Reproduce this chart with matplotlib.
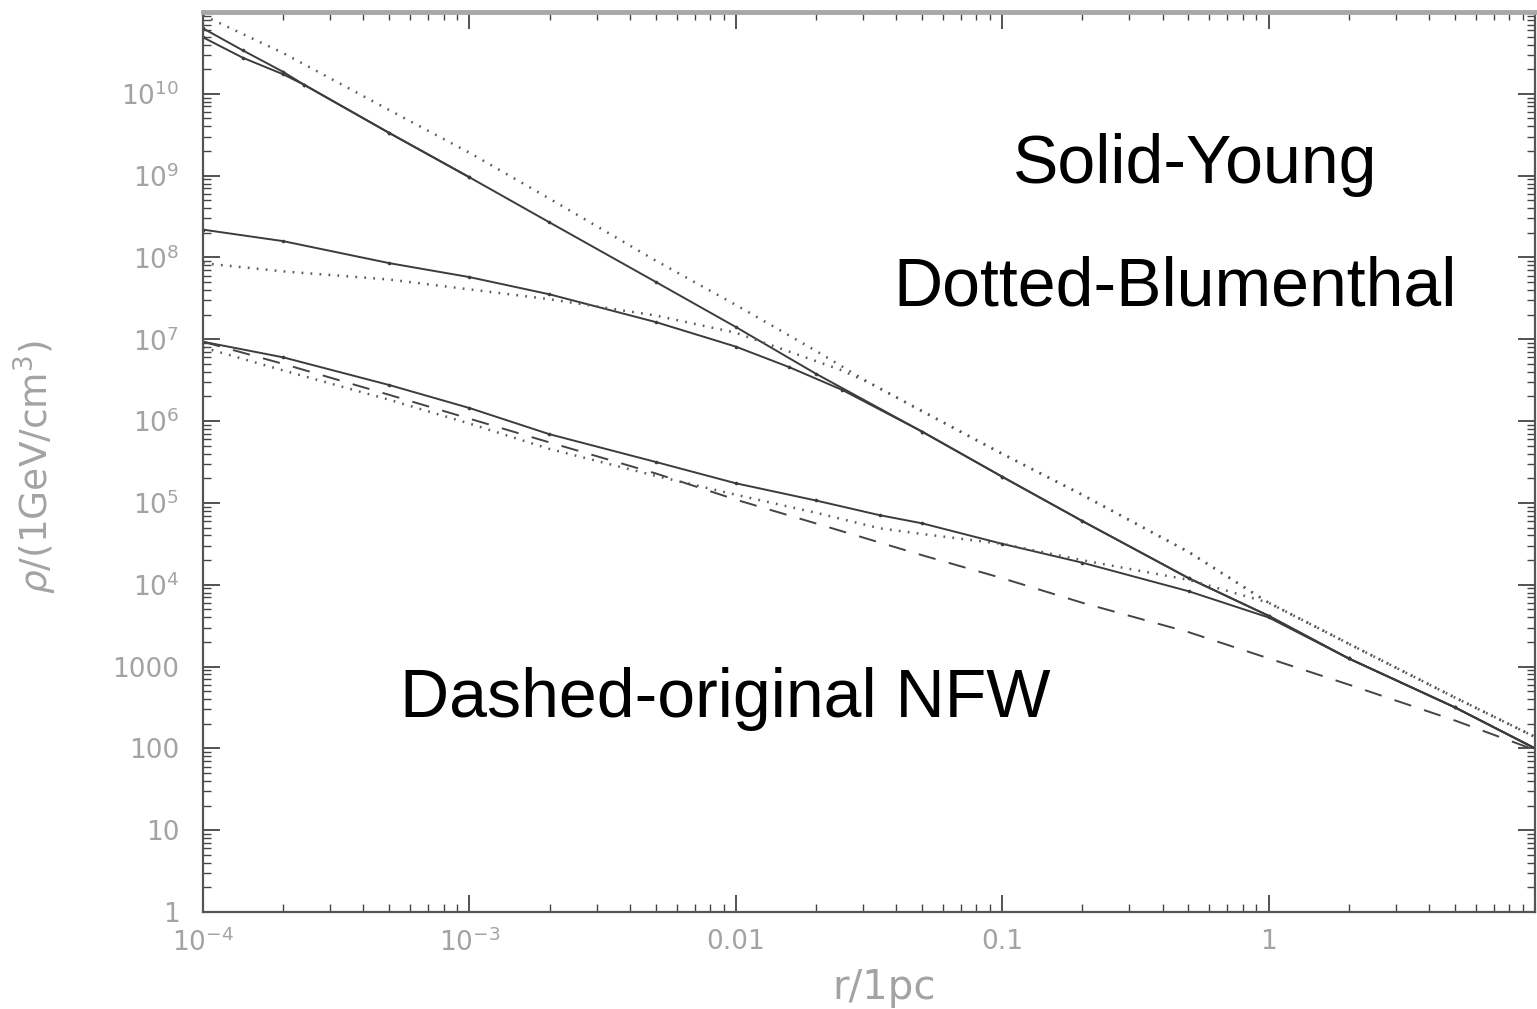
import numpy as np
import matplotlib
matplotlib.use("Agg")
import matplotlib.pyplot as plt
from matplotlib.ticker import LogLocator, FixedLocator, FixedFormatter, NullFormatter

# ---- density profiles: log10(r / 1pc) and log10(rho / (1 GeV/cm^3)) ----
# Young (solid) adiabatic-compression profiles
young_steep_a_logr = [-4.0, -3.85, -3.70, -3.62, -3.30, -3.0, -2.70, -2.30, -2.0, -1.70,
                      -1.30, -1.0, -0.70, -0.30, 0.0, 0.30, 0.70, 1.0]
young_steep_a_logrho = [10.80, 10.53, 10.27, 10.11, 9.52, 8.98, 8.43, 7.70, 7.15, 6.58,
                        5.87, 5.32, 4.78, 4.08, 3.62, 3.10, 2.50, 2.00]
young_steep_b_logr = [-4.0, -3.85, -3.70, -3.62, -3.30, -3.0]
young_steep_b_logrho = [10.69, 10.44, 10.24, 10.11, 9.52, 8.98]
young_mid_logr = [-4.0, -3.70, -3.30, -3.0, -2.70, -2.30, -2.0, -1.80, -1.60, -1.30,
                  -1.0, -0.70, -0.30, 0.0, 0.30, 0.70, 1.0]
young_mid_logrho = [8.34, 8.20, 7.93, 7.76, 7.55, 7.21, 6.91, 6.66, 6.38, 5.87,
                    5.32, 4.78, 4.08, 3.62, 3.10, 2.50, 2.00]
young_low_logr = [-4.0, -3.70, -3.30, -3.0, -2.70, -2.30, -2.0, -1.70, -1.46, -1.30,
                  -1.0, -0.70, -0.30, 0.0, 0.30, 0.70, 1.0]
young_low_logrho = [6.97, 6.78, 6.44, 6.16, 5.84, 5.50, 5.24, 5.03, 4.85, 4.75,
                    4.50, 4.27, 3.92, 3.60, 3.10, 2.50, 2.00]

# Blumenthal (dotted) profiles
blum_steep_logr = [-4.0, -3.70, -3.30, -3.0, -2.70, -2.30, -2.0, -1.70, -1.50, -1.30,
                   -1.0, -0.70, -0.30, 0.0, 0.30, 0.70, 1.0]
blum_steep_logrho = [10.96, 10.50, 9.80, 9.28, 8.72, 7.96, 7.42, 6.86, 6.47, 6.12,
                     5.60, 5.10, 4.40, 3.78, 3.28, 2.62, 2.14]
blum_mid_logr = [-4.0, -3.70, -3.30, -3.0, -2.70, -2.30, -2.0, -1.80, -1.61, -1.50,
                 -1.30, -1.0, -0.70, -0.30, 0.0, 0.30, 0.70, 1.0]
blum_mid_logrho = [7.93, 7.83, 7.73, 7.61, 7.49, 7.29, 7.08, 6.85, 6.63, 6.47,
                   6.12, 5.60, 5.10, 4.40, 3.78, 3.28, 2.62, 2.14]
blum_low_logr = [-4.0, -3.70, -3.30, -3.0, -2.70, -2.30, -2.0, -1.70, -1.46, -1.30,
                 -1.0, -0.70, -0.30, 0.0, 0.30, 0.70, 1.0]
blum_low_logrho = [6.90, 6.62, 6.26, 5.97, 5.66, 5.33, 5.10, 4.88, 4.69, 4.62,
                   4.50, 4.30, 4.06, 3.78, 3.28, 2.62, 2.14]

# original NFW (dashed)
nfw_logr = [-4.0, -3.70, -3.30, -3.0, -2.70, -2.30, -2.0, -1.70, -1.30, -1.0,
            -0.70, -0.30, 0.0, 0.30, 0.70, 1.0]
nfw_logrho = [6.97, 6.70, 6.32, 6.03, 5.74, 5.36, 5.04, 4.75, 4.36, 4.08,
              3.78, 3.42, 3.10, 2.78, 2.34, 1.98]

# axis ticks
x_ticks = [1e-4, 1e-3, 1e-2, 1e-1, 1.0]
x_ticklabels = [r"$10^{-4}$", r"$10^{-3}$", "0.01", "0.1", "1"]
y_ticks = [1, 10, 100, 1000, 1e4, 1e5, 1e6, 1e7, 1e8, 1e9, 1e10]
y_ticklabels = ["1", "10", "100", "1000", r"$10^{4}$", r"$10^{5}$", r"$10^{6}$",
                r"$10^{7}$", r"$10^{8}$", r"$10^{9}$", r"$10^{10}$"]

# ---- figure ----
W, H = 1537, 1009
fig = plt.figure(figsize=(W / 100, H / 100), dpi=100)
ax = fig.add_axes([203 / W, (H - 912) / H, (1535 - 203) / W, (912 - 12) / H])
ax.set_xscale("log")
ax.set_yscale("log")
ax.set_xlim(1e-4, 10)
ax.set_ylim(1, 1e11)


def curve(logr, logrho):
    return 10 ** np.asarray(logr), 10 ** np.asarray(logrho)


solid_kw = dict(color="#3c3c3c", lw=1.4, ls="-", marker="o", ms=1.6)
dot_kw = dict(color="#5a5a5a", lw=1.8, ls=(0, (0.7, 2.9)))
dash_kw = dict(color="#444444", lw=1.4, ls=(0, (9.0, 7.0)))

for lr, lrho in [(young_steep_a_logr, young_steep_a_logrho),
                 (young_steep_b_logr, young_steep_b_logrho),
                 (young_mid_logr, young_mid_logrho),
                 (young_low_logr, young_low_logrho)]:
    ax.plot(*curve(lr, lrho), **solid_kw)

for lr, lrho in [(blum_steep_logr, blum_steep_logrho),
                 (blum_mid_logr, blum_mid_logrho),
                 (blum_low_logr, blum_low_logrho)]:
    ax.plot(*curve(lr, lrho), **dot_kw)

ax.plot(*curve(nfw_logr, nfw_logrho), **dash_kw)

# ---- axes styling ----
label_color = "#a3a3a3"
ax.xaxis.set_major_locator(FixedLocator(x_ticks))
ax.xaxis.set_major_formatter(FixedFormatter(x_ticklabels))
ax.yaxis.set_major_locator(FixedLocator(y_ticks))
ax.yaxis.set_major_formatter(FixedFormatter(y_ticklabels))
ax.xaxis.set_minor_locator(LogLocator(base=10, subs=np.arange(2, 10), numticks=20))
ax.yaxis.set_minor_locator(LogLocator(base=10, subs=np.arange(2, 10), numticks=20))
ax.xaxis.set_minor_formatter(NullFormatter())
ax.yaxis.set_minor_formatter(NullFormatter())

ax.tick_params(which="both", direction="in", top=True, right=True, color="#444444")
ax.tick_params(which="major", length=12, width=1.3)
ax.tick_params(which="minor", length=6, width=1.0)
ax.tick_params(axis="y", which="major", labelsize=19, labelcolor=label_color, pad=17)
ax.tick_params(axis="x", which="major", labelsize=19, labelcolor=label_color, pad=12)

for side in ["left", "bottom", "right"]:
    ax.spines[side].set_color("#555555")
    ax.spines[side].set_linewidth(1.6)
ax.spines["top"].set_color("#a8a8a8")
ax.spines["top"].set_linewidth(3.5)

# axis titles
fig.text(35 / W, 1 - 467 / H, r"$\rho$/(1GeV/cm$^3$)", rotation=90, ha="center", va="center",
         fontsize=27, color=label_color, family="DejaVu Sans")
fig.text(884 / W, 1 - 988 / H, "r/1pc", ha="center", va="center",
         fontsize=29, color=label_color, family="DejaVu Sans")

# legend-like annotations
ann_font = dict(fontsize=49, color="black", family="Liberation Sans")
fig.text(1013 / W, 1 - 183 / H, "Solid-Young", ha="left", va="baseline", **ann_font)
fig.text(893 / W, 1 - 305 / H, "Dotted-Blumenthal", ha="left", va="baseline", **ann_font)
fig.text(400 / W, 1 - 717 / H, "Dashed-original NFW", ha="left", va="baseline", **ann_font)

fig.savefig("out.png", dpi=100, facecolor="white")
